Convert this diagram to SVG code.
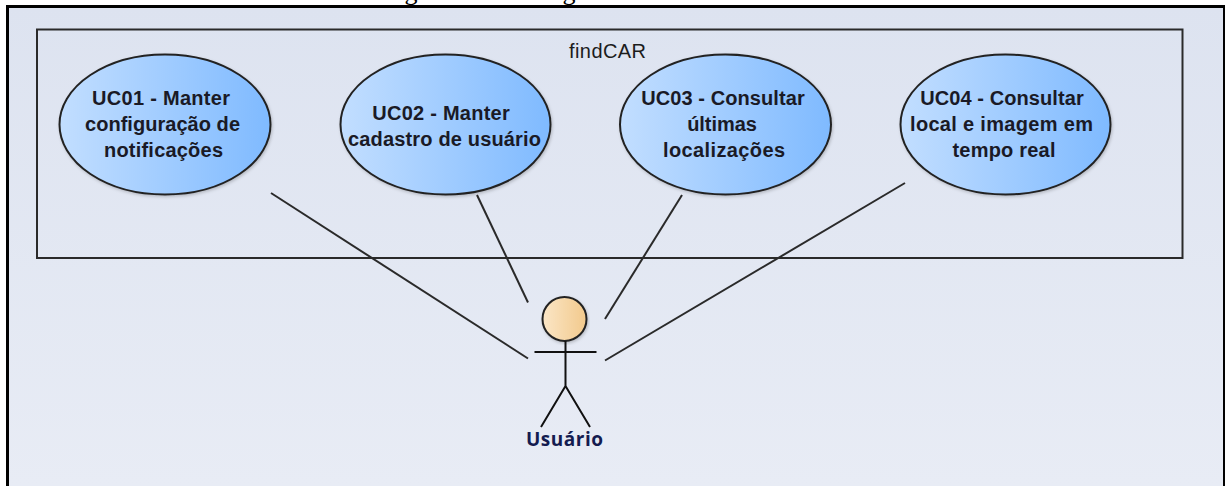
<svg xmlns="http://www.w3.org/2000/svg" width="1225" height="486" viewBox="0 0 1225 486">
<style>
.uc{fill:url(#ucFill);stroke:#222;stroke-width:2;filter:url(#soft)}
.lbl{font-family:"Liberation Sans",Arial,sans-serif;font-weight:bold;font-size:20px;fill:#1a1a26;text-anchor:middle}
.conn{stroke:#2a2a2a;stroke-width:2;fill:none}
.stick{stroke:#111;stroke-width:2;fill:none}
</style>
<defs>
<linearGradient id="bg" x1="0" y1="0" x2="0" y2="1"><stop offset="0" stop-color="#dde3f0"/><stop offset="1" stop-color="#e8ecf5"/></linearGradient>
<linearGradient id="ucFill" x1="0" y1="0" x2="1" y2="0"><stop offset="0" stop-color="#c2deff"/><stop offset="1" stop-color="#7fbaff"/></linearGradient>
<linearGradient id="headFill" x1="0" y1="0" x2="1" y2="0"><stop offset="0" stop-color="#fbe6c6"/><stop offset="1" stop-color="#f2c98c"/></linearGradient>
<filter id="soft" x="-5%" y="-5%" width="112%" height="112%"><feDropShadow dx="1" dy="1.5" stdDeviation="1.5" flood-color="#000" flood-opacity="0.2"/></filter>
</defs>
<rect width="1225" height="486" fill="#fff"/>
<rect x="9" y="8" width="1214" height="478" fill="url(#bg)"/>
<rect x="6" y="5" width="1219" height="3" fill="#000"/>
<rect x="6" y="5" width="3" height="481" fill="#000"/>
<rect x="1223" y="5" width="2" height="481" fill="#000"/>
<text x="411" y="0" font-family="Liberation Serif,serif" font-size="26" text-anchor="middle">g</text>
<text x="569" y="0" font-family="Liberation Serif,serif" font-size="26" text-anchor="middle">g</text>
<g id="system">
<rect x="37" y="29.5" width="1145.5" height="228.5" fill="none" stroke="#2a2a2a" stroke-width="2"/>
<text x="607.5" y="58" font-family="Liberation Sans,Arial,sans-serif" font-size="20" fill="#1c1c1c" text-anchor="middle" textLength="77">findCAR</text>
</g>
<g id="connectors">
<line class="conn" x1="271" y1="193" x2="528" y2="358.5"/>
<line class="conn" x1="477" y1="195" x2="528" y2="302.5"/>
<line class="conn" x1="682" y1="195" x2="605" y2="319"/>
<line class="conn" x1="905" y1="183" x2="605" y2="360.5"/>
</g>
<g id="uc01"><ellipse class="uc" cx="165" cy="124.5" rx="105.5" ry="70"/>
<text class="lbl" x="161" y="105" textLength="138">UC01 - Manter</text><text class="lbl" x="162.5" y="131" textLength="155">configuração de</text><text class="lbl" x="163.5" y="157" textLength="119">notificações</text></g>
<g id="uc02"><ellipse class="uc" cx="445.5" cy="124.5" rx="105" ry="70"/>
<text class="lbl" x="441" y="120" textLength="137.5">UC02 - Manter</text><text class="lbl" x="444.5" y="146" textLength="193">cadastro de usuário</text></g>
<g id="uc03"><ellipse class="uc" cx="725.5" cy="124.5" rx="105.5" ry="70"/>
<text class="lbl" x="723" y="105" textLength="163.5">UC03 - Consultar</text><text class="lbl" x="722" y="131" textLength="69.6">últimas</text><text class="lbl" x="724" y="157" textLength="122">localizações</text></g>
<g id="uc04"><ellipse class="uc" cx="1005.5" cy="124.5" rx="105" ry="70"/>
<text class="lbl" x="1002" y="105" textLength="163.5">UC04 - Consultar</text><text class="lbl" x="1001.5" y="131" textLength="183">local e imagem em</text><text class="lbl" x="1004" y="157" textLength="103">tempo real</text></g>
<g id="actor">
<circle cx="564.5" cy="319" r="22" fill="url(#headFill)" stroke="#222" stroke-width="2" filter="url(#soft)"/>
<path class="stick" d="M534.5 352H596.5M565.5 341V386L541 427M565.5 386L590 427"/>
<text x="564.5" y="446" font-family="Open Sans,DejaVu Sans,sans-serif" font-weight="bold" font-size="19" fill="#141c50" text-anchor="middle" textLength="77">Usuário</text>
</g>
</svg>
